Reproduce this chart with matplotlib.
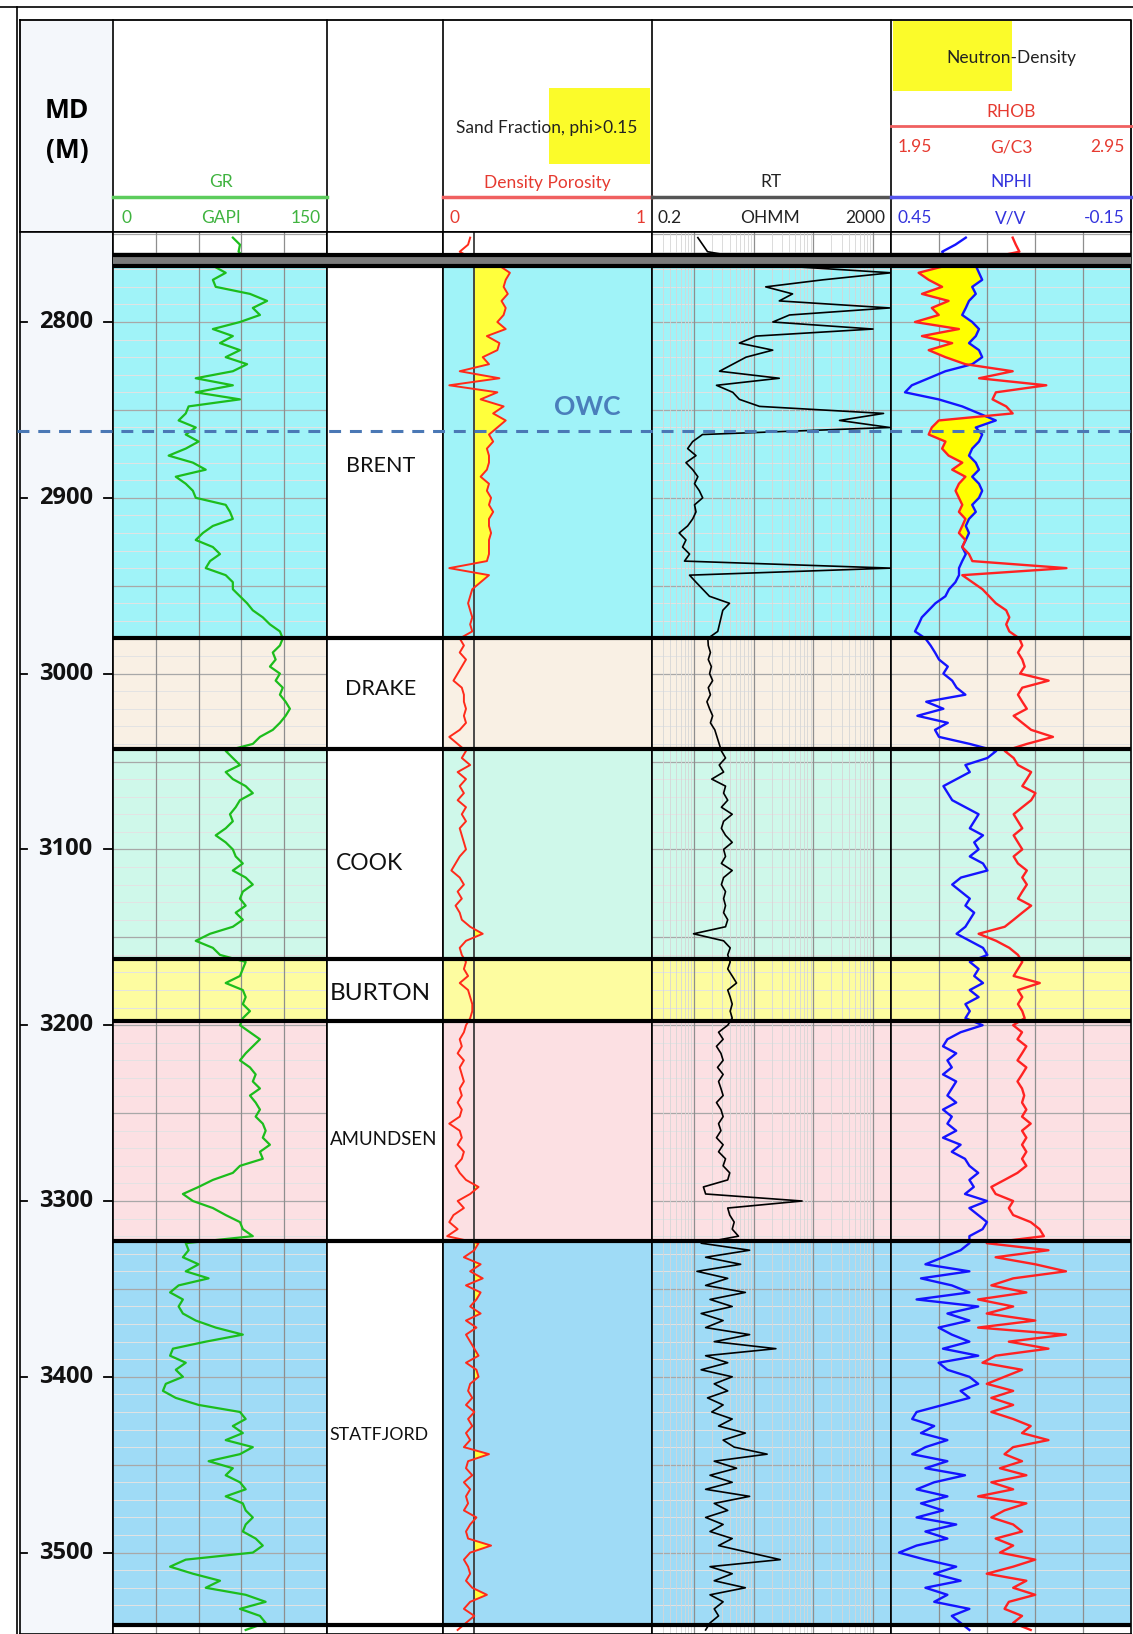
import numpy as np
import matplotlib.pyplot as plt
from matplotlib.ticker import NullLocator

plt.rcParams['font.family'] = ['Lato', 'DejaVu Sans']

# ---------------------------------------------------------------- data
# sample depths (MD, m): one reading every 4 m
depth = np.arange(2752, 3545, 4)

# GR, GAPI
gr = np.array([
    84, 89, 88, 93, 70, 79, 70, 72, 96, 108,
    98, 103, 89, 70, 84, 75, 89, 79, 94, 84,
    58, 84, 58, 89, 53, 51, 46, 58, 51, 60,
    51, 39, 56, 65, 44, 51, 56, 58, 79, 82,
    84, 70, 63, 58, 70, 75, 68, 65, 79, 84,
    84, 89, 94, 98, 105, 110, 117, 119,
    # DRAKE
    117, 112, 114, 110, 117, 114, 119, 117, 121, 124, 121, 117, 112, 103, 98,
    # COOK
    79, 84, 89, 79, 84, 93, 98, 89, 86, 82,
    84, 79, 72, 79, 84, 86, 91, 84, 93, 98,
    91, 89, 93, 86, 91, 84, 68, 58, 70, 75,
    # BURTON
    93, 91, 89, 79, 91, 93, 91, 96, 91,
    # AMUNDSEN
    89, 96, 103, 98, 93, 89, 96, 100, 98, 103,
    96, 100, 103, 100, 105, 107, 105, 110, 103, 105,
    89, 84, 70, 60, 49, 56, 70, 79, 89, 91, 98,
    # STATFJORD
    51, 53, 49, 60, 51, 67, 46, 40, 49, 46,
    49, 58, 72, 91, 65, 42, 40, 51, 44, 49,
    37, 35, 44, 60, 89, 93, 84, 91, 79, 98,
    89, 67, 84, 79, 89, 93, 79, 91, 93, 98,
    93, 91, 100, 105, 98, 51, 40, 56, 75, 65,
    93, 107, 89, 103, 107, 93,
])

# density porosity, v/v
dphi = np.array([
    0.13, 0.12, 0.08, 0.14, 0.27, 0.32, 0.30, 0.29, 0.31, 0.28,
    0.30, 0.29, 0.26, 0.30, 0.21, 0.27, 0.26, 0.19, 0.22, 0.08,
    0.27, 0.03, 0.26, 0.18, 0.29, 0.24, 0.30, 0.26, 0.22, 0.24,
    0.21, 0.22, 0.22, 0.21, 0.18, 0.22, 0.21, 0.23, 0.22, 0.24,
    0.22, 0.22, 0.23, 0.22, 0.22, 0.22, 0.21, 0.03, 0.22, 0.18,
    0.14, 0.13, 0.12, 0.13, 0.14, 0.13, 0.14, 0.08,
    0.10, 0.08, 0.11, 0.09, 0.07, 0.05, 0.09, 0.10, 0.10, 0.11, 0.10, 0.11, 0.08, 0.03, 0.07,
    0.11, 0.09, 0.13, 0.07, 0.11, 0.08, 0.10, 0.07, 0.11, 0.09,
    0.11, 0.08, 0.09, 0.10, 0.11, 0.08, 0.06, 0.04, 0.08, 0.10,
    0.07, 0.09, 0.06, 0.08, 0.09, 0.13, 0.19, 0.11, 0.08, 0.09,
    0.11, 0.10, 0.12, 0.08, 0.12, 0.13, 0.14, 0.14, 0.13,
    0.11, 0.10, 0.08, 0.09, 0.07, 0.10, 0.08, 0.09, 0.10, 0.08,
    0.09, 0.07, 0.09, 0.08, 0.03, 0.08, 0.09, 0.07, 0.10, 0.09,
    0.06, 0.08, 0.11, 0.17, 0.13, 0.07, 0.10, 0.05, 0.03, 0.07, 0.02,
    0.17, 0.15, 0.10, 0.18, 0.13, 0.19, 0.11, 0.18, 0.16, 0.13,
    0.18, 0.11, 0.16, 0.11, 0.13, 0.15, 0.17, 0.11, 0.16, 0.17,
    0.13, 0.12, 0.14, 0.11, 0.15, 0.12, 0.14, 0.11, 0.13, 0.10,
    0.22, 0.12, 0.11, 0.14, 0.10, 0.13, 0.11, 0.12, 0.10, 0.16,
    0.13, 0.11, 0.12, 0.23, 0.13, 0.10, 0.12, 0.13, 0.11, 0.14,
    0.21, 0.13, 0.10, 0.15, 0.11, 0.07,
])

# deep resistivity, ohm.m
rt = np.array([
    1.17, 1.41, 1.7, 8, 27, 2000, 145, 16, 45, 27,
    1900, 40, 21, 1000, 11, 5.8, 21, 7.5, 4.5, 2.7,
    27, 2.4, 4.5, 5.8, 12.6, 1500, 275, 1900, 1.4, 0.96,
    0.79, 1.09, 0.74, 0.96, 1.17, 1.03, 1.24, 1.41, 1.03, 1.09,
    0.96, 0.79, 0.57, 0.74, 0.65, 0.85, 0.70, 2000, 0.85, 1.09,
    1.41, 1.83, 3.96, 3.06, 2.87, 2.69, 2.52, 1.72,
    1.75, 1.9, 1.75, 1.97, 1.84, 2.07, 1.75, 1.9, 1.66, 1.84, 2.07, 1.9, 2.25, 2.45, 2.67,
    2.9, 3.4, 2.67, 3.16, 2.0, 3.4, 3.16, 3.7, 2.9, 4.4,
    3.16, 2.9, 3.4, 4.4, 3.16, 3.4, 2.9, 4.4, 3.16, 2.9,
    3.4, 3.16, 3.4, 3.16, 3.7, 3.4, 0.99, 3.16, 4.07, 3.7,
    4.07, 3.7, 4.4, 5.2, 3.7, 4.07, 4.4, 4.07, 4.4,
    3.7, 2.6, 3.1, 2.4, 2.85, 3.1, 2.5, 3.1, 2.6, 2.85,
    3.1, 2.4, 2.85, 3.1, 2.6, 2.85, 2.4, 3.1, 2.6, 3.4,
    3.1, 4.0, 3.7, 1.45, 1.58, 65, 3.7, 4.0, 4.75, 4.4, 5.6,
    1.33, 8.6, 1.58, 6.1, 1.13, 3.7, 1.58, 7.3, 1.87, 4.4,
    1.33, 3.1, 1.58, 8.6, 2.2, 23.7, 1.58, 3.7, 1.33, 4.4,
    2.2, 3.7, 1.7, 3.1, 2.0, 4.4, 2.6, 7.3, 3.1, 4.75,
    16.9, 2.2, 5.2, 1.87, 4.4, 1.58, 8.6, 2.2, 3.7, 1.58,
    3.1, 1.87, 4.4, 2.6, 8.6, 28, 1.87, 4.4, 2.2, 7.3,
    1.87, 3.1, 2.2, 2.6, 1.87, 1.58,
])

# neutron porosity, v/v
nphi = np.array([
    0.263, 0.289, 0.322, 0.314, 0.238, 0.23, 0.222, 0.247, 0.238, 0.255,
    0.263, 0.272, 0.247, 0.23, 0.238, 0.255, 0.23, 0.222, 0.247, 0.314,
    0.356, 0.398, 0.415, 0.331, 0.272, 0.23, 0.188, 0.238, 0.222, 0.23,
    0.247, 0.255, 0.238, 0.23, 0.247, 0.23, 0.222, 0.23, 0.247, 0.238,
    0.255, 0.263, 0.255, 0.263, 0.272, 0.263, 0.272, 0.28, 0.28, 0.289,
    0.305, 0.314, 0.339, 0.356, 0.373, 0.381, 0.39, 0.364,
    0.351, 0.34, 0.33, 0.308, 0.319, 0.297, 0.286, 0.264, 0.362, 0.319, 0.384, 0.308, 0.34, 0.33, 0.253,
    0.187, 0.209, 0.264, 0.253, 0.286, 0.319, 0.308, 0.297, 0.264, 0.231,
    0.242, 0.253, 0.22, 0.242, 0.231, 0.253, 0.22, 0.209, 0.275, 0.297,
    0.275, 0.253, 0.264, 0.242, 0.253, 0.264, 0.286, 0.253, 0.22, 0.209,
    0.253, 0.231, 0.242, 0.22, 0.253, 0.231, 0.264, 0.253, 0.264,
    0.221, 0.276, 0.309, 0.32, 0.287, 0.309, 0.298, 0.32, 0.287, 0.298,
    0.309, 0.287, 0.32, 0.298, 0.309, 0.287, 0.32, 0.276, 0.298, 0.265,
    0.254, 0.232, 0.254, 0.243, 0.265, 0.21, 0.254, 0.232, 0.21, 0.221, 0.254,
    0.254, 0.276, 0.32, 0.364, 0.254, 0.375, 0.298, 0.254, 0.386, 0.232,
    0.309, 0.254, 0.331, 0.298, 0.254, 0.32, 0.232, 0.331, 0.309, 0.254,
    0.232, 0.276, 0.254, 0.32, 0.386, 0.397, 0.342, 0.375, 0.309, 0.364,
    0.397, 0.309, 0.364, 0.265, 0.342, 0.386, 0.309, 0.375, 0.32, 0.386,
    0.287, 0.364, 0.309, 0.386, 0.43, 0.364, 0.287, 0.342, 0.276, 0.364,
    0.309, 0.342, 0.254, 0.298, 0.276, 0.254,
])

# bulk density, g/cc
rhob = np.array([
    2.457, 2.47, 2.485, 2.345, 2.177, 2.065, 2.107, 2.163, 2.079, 2.19,
    2.12, 2.149, 2.05, 2.233, 2.079, 2.205, 2.107, 2.177, 2.26, 2.457,
    2.317, 2.597, 2.387, 2.373, 2.43, 2.457, 2.149, 2.12, 2.107, 2.177,
    2.163, 2.19, 2.247, 2.205, 2.26, 2.233, 2.219, 2.233, 2.247, 2.233,
    2.26, 2.247, 2.233, 2.26, 2.247, 2.275, 2.289, 2.681, 2.247, 2.289,
    2.331, 2.359, 2.387, 2.43, 2.443, 2.43, 2.443, 2.485,
    2.497, 2.479, 2.497, 2.507, 2.488, 2.607, 2.497, 2.479, 2.497, 2.516, 2.461, 2.497, 2.534, 2.625, 2.516,
    2.424, 2.461, 2.479, 2.534, 2.516, 2.497, 2.552, 2.534, 2.497, 2.461,
    2.479, 2.497, 2.461, 2.479, 2.497, 2.461, 2.479, 2.516, 2.497, 2.516,
    2.497, 2.479, 2.534, 2.497, 2.461, 2.424, 2.315, 2.388, 2.443, 2.479,
    2.497, 2.479, 2.461, 2.57, 2.479, 2.497, 2.479, 2.497, 2.507,
    2.459, 2.496, 2.477, 2.514, 2.496, 2.477, 2.514, 2.496, 2.477, 2.496,
    2.505, 2.496, 2.514, 2.496, 2.532, 2.496, 2.514, 2.496, 2.514, 2.496,
    2.514, 2.477, 2.423, 2.368, 2.386, 2.459, 2.441, 2.459, 2.532, 2.569, 2.587,
    2.349, 2.606, 2.386, 2.551, 2.679, 2.459, 2.368, 2.514, 2.313, 2.459,
    2.349, 2.551, 2.313, 2.679, 2.441, 2.606, 2.386, 2.331, 2.496, 2.423,
    2.349, 2.459, 2.368, 2.459, 2.368, 2.459, 2.532, 2.496, 2.606, 2.459,
    2.423, 2.496, 2.404, 2.514, 2.368, 2.459, 2.313, 2.514, 2.423, 2.368,
    2.459, 2.496, 2.386, 2.459, 2.404, 2.551, 2.459, 2.349, 2.514, 2.459,
    2.551, 2.441, 2.423, 2.496, 2.459, 2.532,
])

zone_names = ['BRENT', 'DRAKE', 'COOK', 'BURTON', 'AMUNDSEN', 'STATFJORD']
zone_top = [2768, 2980, 3043, 3162.5, 3197.5, 3323]
zone_base = [2980, 3043, 3162.5, 3197.5, 3323, 3541]
zone_colors = ['#a0f3f8', '#f9f0e4', '#cff8ea', '#fdfca0', '#fce0e3', '#9fdbf6']
upper_marker = 2762      # thin grey band above Brent
owc_depth = 2862
depth_ticks = [2800, 2900, 3000, 3100, 3200, 3300, 3400, 3500]
sand_cutoff = 0.15

# ---------------------------------------------------------------- layout (pixels)
W, H = 1133, 1634
fig = plt.figure(figsize=(W / 100, H / 100), dpi=100)
LOG_TOP, LOG_BOT = 232, 1634
D_TOP, D_BOT = 2748.8, 3546.3
X_DEP, X_GR, X_FM, X_DP, X_RT, X_ND, X_END = 20, 113, 327, 443, 652, 891, 1131


def add_px(x0, x1, y0, y1, **kw):
    return fig.add_axes([x0 / W, 1 - y1 / H, (x1 - x0) / W, (y1 - y0) / H], **kw)


def track(x0, x1, xlim, log=False):
    ax = add_px(x0, x1, LOG_TOP, LOG_BOT)
    if log:
        ax.set_xscale('log')
    ax.set_xlim(*xlim)
    ax.set_ylim(D_BOT, D_TOP)
    ax.xaxis.set_major_locator(NullLocator())
    ax.xaxis.set_minor_locator(NullLocator())
    ax.yaxis.set_major_locator(NullLocator())
    for s in ax.spines.values():
        s.set_color('black')
        s.set_linewidth(1.2)
    return ax


ax_dep = track(X_DEP, X_GR, (0, 1))
ax_gr = track(X_GR, X_FM, (0, 150))
ax_fm = track(X_FM, X_DP, (0, 1))
ax_dp = track(X_DP, X_RT, (0, 1))
ax_rt = track(X_RT, X_ND, (0.2, 2000), log=True)
ax_nd = track(X_ND, X_END, (0.45, -0.15))
ax_rho = ax_nd.twiny()
ax_rho.set_xlim(1.95, 2.95)
ax_rho.xaxis.set_major_locator(NullLocator())
ax_rho.patch.set_visible(False)
for s in ax_rho.spines.values():
    s.set_visible(False)

ax_dep.set_facecolor('#f4f7fb')

# zone colours
for ax in (ax_gr, ax_dp, ax_rt, ax_nd):
    for t, b, c in zip(zone_top, zone_base, zone_colors):
        ax.axhspan(t, b, color=c, lw=0, zorder=0)

# horizontal grid every 10 m, darker every 50 m
for ax in (ax_gr, ax_rt, ax_nd):
    for d in range(2750, 3550, 10):
        if d % 50 == 0:
            ax.axhline(d, color='#a8a8a8', lw=0.9, zorder=0.5)
        else:
            ax.axhline(d, color='#e3e3e3', lw=0.7, zorder=0.5)

for v in (30, 60, 90, 120):
    ax_gr.axvline(v, color='#8e8e8e', lw=0.9, zorder=0.6)
for v in (0.33, 0.21, 0.09, -0.03):
    ax_nd.axvline(v, color='#8e8e8e', lw=0.9, zorder=0.6)
for base in (0.1, 1, 10, 100, 1000):
    for k in range(2, 10):
        v = k * base
        if 0.2 < v < 2000:
            ax_rt.axvline(v, color='#d6d6d6', lw=0.6, zorder=0.55)
for v in (1, 10, 100, 1000):
    ax_rt.axvline(v, color='#8e8e8e', lw=0.9, zorder=0.6)

# GR
ax_gr.plot(gr, depth, color='#1cbd1c', lw=1.6, zorder=3)

# density porosity with sand flag
ax_dp.fill_betweenx(depth, sand_cutoff, dphi, where=dphi > sand_cutoff,
                    interpolate=True, color='#ffff3c', lw=0, zorder=2)
ax_dp.axvline(sand_cutoff, color='#3c3c3c', lw=1.3, zorder=2.5)
ax_dp.plot(dphi, depth, color='#ff2a1a', lw=1.4, zorder=3)
ax_dp.text(0.69, 2848.5, 'OWC', color='#4a7ebb', fontsize=19, fontweight='bold',
           ha='center', va='center', zorder=4)

# RT
ax_rt.plot(rt, depth, color='black', lw=1.2, zorder=3)

# neutron-density with crossover shading
rhob_on_nphi = 0.45 - 0.6 * (rhob - 1.95)
ax_nd.fill_betweenx(depth, nphi, rhob_on_nphi, where=rhob_on_nphi > nphi,
                    interpolate=True, color='#ffff00', lw=0, zorder=2)
ax_nd.plot(nphi, depth, color='#1414ff', lw=1.7, zorder=3)
ax_rho.plot(rhob, depth, color='#ff2222', lw=1.7, zorder=3)
ax_rho.set_ylim(D_BOT, D_TOP)

# formation names
fm_x = [0.46, 0.46, 0.37, 0.46, 0.49, 0.45]
fm_size = [15.5, 15.5, 16.5, 17.5, 13.4, 12.8]
fm_y = [2882, 3009, 3108, 3182, 3265, 3433]
for name, x, y, s in zip(zone_names, fm_x, fm_y, fm_size):
    ax_fm.text(x, y, name, fontsize=s, ha='center', va='center', color='#111111')

# depth labels
for d in depth_ticks:
    ax_dep.text(0.49, d, str(d), ha='center', va='center', fontsize=17,
                fontweight='bold', family=['Open Sans', 'DejaVu Sans'], color='#111111')
    ax_dep.plot([0, 0.07], [d, d], color='black', lw=1.3)
    ax_dep.plot([0.9, 1], [d, d], color='black', lw=1.3)

# overlay: zone boundaries and OWC
ov = add_px(17, X_END, LOG_TOP, LOG_BOT)
ov.set_xlim(17, X_END)
ov.set_ylim(D_BOT, D_TOP)
ov.axis('off')
ov.patch.set_visible(False)
ov.fill_between([X_GR, X_END], upper_marker, zone_top[0], color='#7b7b7b', lw=0)
for d in [upper_marker] + zone_top + [zone_base[-1]]:
    ov.hlines(d, X_GR, X_END, colors='black', lw=3)
ov.hlines(owc_depth, 17, X_END, colors='#4a78b5', lw=2.2, linestyles=(0, (3.9, 2.9)))

# ---------------------------------------------------------------- header
hd = add_px(0, W, 0, H)
hd.set_xlim(0, W)
hd.set_ylim(H, 0)
hd.axis('off')
hd.patch.set_visible(False)
hd.set_zorder(-1)

hd.plot([0, W], [7, 7], color='black', lw=1.2)
hd.plot([17, 17], [7, H], color='black', lw=1.2)
hd.plot([X_DEP, X_END, X_END, X_DEP, X_DEP], [20, 20, LOG_TOP, LOG_TOP, 20], color='black', lw=1.3)
for x in (X_GR, X_FM, X_DP, X_RT, X_ND):
    hd.plot([x, x], [20, LOG_TOP], color='black', lw=1.2)
hd.fill_between([X_DEP + 1, X_GR - 1], 21, LOG_TOP - 1, color='#f4f7fb', lw=0)

FS = 12.5
hfont = dict(fontsize=FS, ha='center', va='center')
hd.text(67, 110, 'MD', fontsize=19, fontweight='bold', ha='center', va='center',
        family=['Open Sans', 'DejaVu Sans'])
hd.text(67, 150, '(M)', fontsize=19, fontweight='bold', ha='center', va='center',
        family=['Open Sans', 'DejaVu Sans'])

# GR header
g = '#3fb33f'
hd.text(221, 182, 'GR', color=g, **hfont)
hd.plot([X_GR, X_FM], [197, 197], color='#5ccc5c', lw=2.5)
hd.text(121, 218, '0', color=g, fontsize=FS, ha='left', va='center')
hd.text(221, 218, 'GAPI', color=g, **hfont)
hd.text(321, 218, '150', color=g, fontsize=FS, ha='right', va='center')

# density porosity header
r = '#e63a30'
hd.fill_between([549, 650], 88, 164, color='#fbfb2a', lw=0)
hd.text(547, 128, 'Sand Fraction, phi>0.15', color='#222222', **hfont)
hd.text(547, 183, 'Density Porosity', color=r, **hfont)
hd.plot([X_DP, X_RT], [197, 197], color='#f06060', lw=2.5)
hd.text(449, 218, '0', color=r, fontsize=FS, ha='left', va='center')
hd.text(646, 218, '1', color=r, fontsize=FS, ha='right', va='center')

# RT header
hd.text(771, 182, 'RT', color='#222222', **hfont)
hd.plot([X_RT, X_ND], [197, 197], color='#555555', lw=2.5)
hd.text(658, 218, '0.2', color='#222222', fontsize=FS, ha='left', va='center')
hd.text(770, 218, 'OHMM', color='#222222', **hfont)
hd.text(885, 218, '2000', color='#222222', fontsize=FS, ha='right', va='center')

# neutron-density header
b = '#3333dd'
hd.fill_between([X_ND + 2, 1012], 21, 91, color='#fbfb2a', lw=0)
hd.text(1011, 58, 'Neutron-Density', color='#222222', **hfont)
hd.text(1011, 112, 'RHOB', color=r, **hfont)
hd.plot([X_ND, X_END], [126, 126], color='#f06060', lw=2)
hd.text(898, 147, '1.95', color=r, fontsize=FS, ha='left', va='center')
hd.text(1011, 147, 'G/C3', color=r, **hfont)
hd.text(1125, 147, '2.95', color=r, fontsize=FS, ha='right', va='center')
hd.text(1011, 182, 'NPHI', color=b, **hfont)
hd.plot([X_ND, X_END], [197, 197], color='#5555ee', lw=2.5)
hd.text(898, 218, '0.45', color=b, fontsize=FS, ha='left', va='center')
hd.text(1011, 218, 'V/V', color=b, **hfont)
hd.text(1125, 218, '-0.15', color=b, fontsize=FS, ha='right', va='center')

fig.savefig('out.png', dpi=100)
